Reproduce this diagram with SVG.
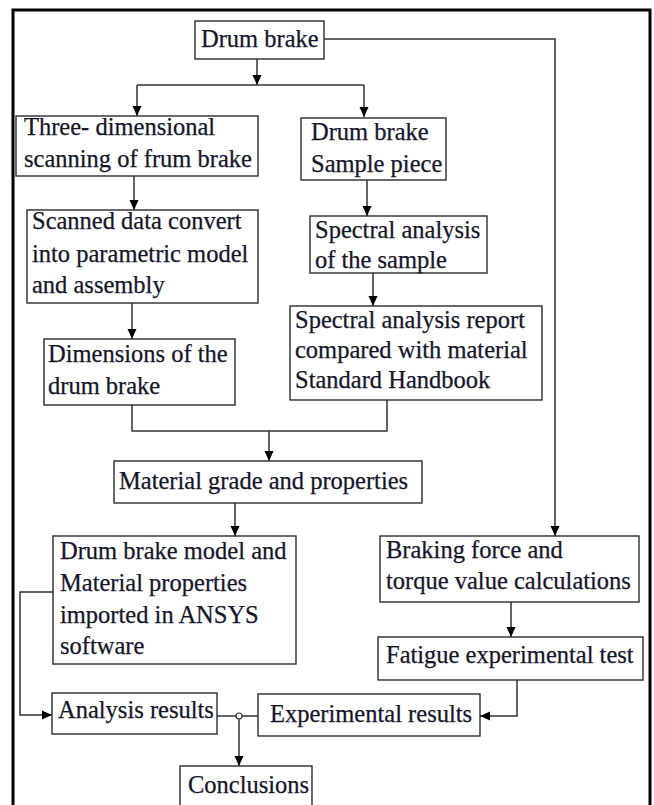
<svg xmlns="http://www.w3.org/2000/svg" width="654" height="805" viewBox="0 0 654 805">
<defs>
<style>
.box{fill:#fff;stroke:#2b2b2b;stroke-width:1.4}
.t{font-family:"Liberation Serif","Times New Roman",serif;font-size:24.5px;fill:#15152a;stroke:#15152a;stroke-width:0.25}
.c{fill:none;stroke:#333;stroke-width:1.5}
</style>
<marker id="ah" viewBox="0 0 10 10" refX="10" refY="5" markerWidth="11" markerHeight="10" markerUnits="userSpaceOnUse" orient="auto">
<path d="M0,0.5 L10,5 L0,9.5 Z" fill="#000"/>
</marker>
</defs>
<rect x="0" y="0" width="654" height="805" fill="#fff"/>
<rect x="13" y="10" width="637" height="805" fill="none" stroke="#000" stroke-width="3"/>

<g id="connectors">
<path class="c" d="M257,59 V85" marker-end="url(#ah)"/>
<path class="c" d="M137,85 H364"/>
<path class="c" d="M137,85 V116" marker-end="url(#ah)"/>
<path class="c" d="M364,85 V117" marker-end="url(#ah)"/>
<path class="c" d="M324,39 H555 V536" marker-end="url(#ah)"/>
<path class="c" d="M134,176 V210" marker-end="url(#ah)"/>
<path class="c" d="M132,303 V339" marker-end="url(#ah)"/>
<path class="c" d="M132,405 V431 H387 V400"/>
<path class="c" d="M269,431 V461" marker-end="url(#ah)"/>
<path class="c" d="M367,180 V216" marker-end="url(#ah)"/>
<path class="c" d="M373,273 V306" marker-end="url(#ah)"/>
<path class="c" d="M235,503 V536" marker-end="url(#ah)"/>
<path class="c" d="M53,592 H20 V715 H52" marker-end="url(#ah)"/>
<path class="c" d="M511,602 V637" marker-end="url(#ah)"/>
<path class="c" d="M517,680 V716 H480" marker-end="url(#ah)"/>
<path class="c" d="M217,716 H236 M242,716 H258"/>
<circle cx="239" cy="716" r="3" fill="#fff" stroke="#333" stroke-width="1.2"/>
<path class="c" d="M239,719 V766" marker-end="url(#ah)"/>
</g>

<g id="drum-brake">
<rect class="box" x="195" y="21" width="129" height="38"/>
<text class="t" x="201" y="47">Drum brake</text>
</g>
<g id="three-d-scanning">
<rect class="box" x="16" y="116" width="242" height="60"/>
<text class="t" x="24" y="135">Three- dimensional</text>
<text class="t" x="24" y="167">scanning of frum brake</text>
</g>
<g id="scanned-data">
<rect class="box" x="27" y="210" width="231" height="93"/>
<text class="t" x="32" y="229">Scanned data convert</text>
<text class="t" x="32" y="262">into parametric model</text>
<text class="t" x="32" y="293">and assembly</text>
</g>
<g id="dimensions">
<rect class="box" x="44" y="339" width="191" height="66"/>
<text class="t" x="48" y="362">Dimensions of the</text>
<text class="t" x="48" y="394">drum brake</text>
</g>
<g id="sample-piece">
<rect class="box" x="301" y="118" width="145" height="62"/>
<text class="t" x="311" y="140">Drum brake</text>
<text class="t" x="311" y="172">Sample piece</text>
</g>
<g id="spectral-analysis">
<rect class="box" x="310" y="216" width="177" height="57"/>
<text class="t" x="315" y="238">Spectral analysis</text>
<text class="t" x="315" y="268">of the sample</text>
</g>
<g id="spectral-report">
<rect class="box" x="290" y="306" width="252" height="94"/>
<text class="t" x="295" y="328">Spectral analysis report</text>
<text class="t" x="295" y="358">compared with material</text>
<text class="t" x="295" y="388">Standard Handbook</text>
</g>
<g id="material-grade">
<rect class="box" x="114" y="461" width="308" height="42"/>
<text class="t" x="119" y="489">Material grade and properties</text>
</g>
<g id="ansys-model">
<rect class="box" x="53" y="536" width="243" height="128"/>
<text class="t" x="60" y="559">Drum brake model and</text>
<text class="t" x="60" y="591">Material properties</text>
<text class="t" x="60" y="623">imported in ANSYS</text>
<text class="t" x="60" y="654">software</text>
</g>
<g id="braking-force">
<rect class="box" x="380" y="536" width="259" height="66"/>
<text class="t" x="386" y="558">Braking force and</text>
<text class="t" x="386" y="589">torque value calculations</text>
</g>
<g id="fatigue-test">
<rect class="box" x="378" y="637" width="265" height="43"/>
<text class="t" x="386" y="663">Fatigue experimental test</text>
</g>
<g id="analysis-results">
<rect class="box" x="52" y="693" width="165" height="41"/>
<text class="t" x="58" y="718">Analysis results</text>
</g>
<g id="experimental-results">
<rect class="box" x="258" y="694" width="222" height="42"/>
<text class="t" x="270" y="722">Experimental results</text>
</g>
<g id="conclusions">
<rect class="box" x="180" y="766" width="132" height="50"/>
<text class="t" x="188" y="793">Conclusions</text>
</g>
</svg>
